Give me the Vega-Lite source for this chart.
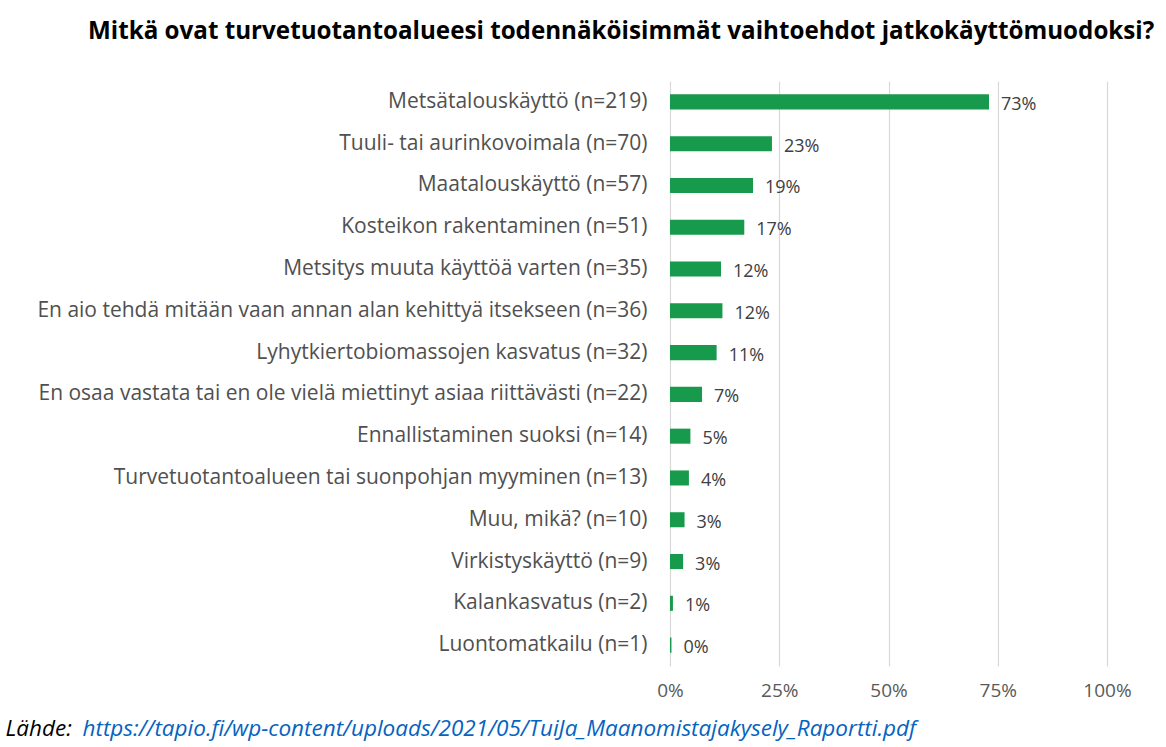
{
  "$schema": "https://vega.github.io/schema/vega-lite/v6.json",
  "width": 437,
  "height": 585,
  "autosize": {"type": "none"},
  "padding": {"left": 670, "top": 81, "right": 59, "bottom": 81},
  "background": "white",
  "title": {
    "text": "Mitkä ovat turvetuotantoalueesi todennäköisimmät vaihtoehdot jatkokäyttömuodoksi?",
    "anchor": "start",
    "frame": "group",
    "dx": -582,
    "offset": 18,
    "baseline": "alphabetic",
    "font": "Open Sans",
    "fontSize": 24.2,
    "fontWeight": "bold",
    "color": "#000000"
  },
  "data": {
    "values": [
      {"option": "Metsätalouskäyttö (n=219)", "share": 0.73},
      {"option": "Tuuli- tai aurinkovoimala (n=70)", "share": 0.2333},
      {"option": "Maatalouskäyttö (n=57)", "share": 0.19},
      {"option": "Kosteikon rakentaminen (n=51)", "share": 0.17},
      {"option": "Metsitys muuta käyttöä varten (n=35)", "share": 0.1167},
      {"option": "En aio tehdä mitään vaan annan alan kehittyä itsekseen (n=36)", "share": 0.12},
      {"option": "Lyhytkiertobiomassojen kasvatus (n=32)", "share": 0.1067},
      {"option": "En osaa vastata tai en ole vielä miettinyt asiaa riittävästi (n=22)", "share": 0.0733},
      {"option": "Ennallistaminen suoksi (n=14)", "share": 0.0467},
      {"option": "Turvetuotantoalueen tai suonpohjan myyminen (n=13)", "share": 0.0433},
      {"option": "Muu, mikä? (n=10)", "share": 0.0333},
      {"option": "Virkistyskäyttö (n=9)", "share": 0.03},
      {"option": "Kalankasvatus (n=2)", "share": 0.0067},
      {"option": "Luontomatkailu (n=1)", "share": 0.0033}
    ]
  },
  "encoding": {
    "y": {
      "field": "option",
      "type": "nominal",
      "sort": null,
      "scale": {"paddingInner": 0.64, "paddingOuter": 0.32},
      "axis": {
        "ticks": false,
        "domain": false,
        "labelFont": "Open Sans",
        "labelFontSize": 21,
        "labelColor": "#505050",
        "labelPadding": 23,
        "labelLimit": 1000,
        "title": "Lähde:",
        "titleAngle": 0,
        "titleX": -665,
        "titleY": 654,
        "titleAlign": "left",
        "titleBaseline": "alphabetic",
        "titleFont": "Open Sans",
        "titleFontStyle": "italic",
        "titleFontWeight": "normal",
        "titleFontSize": 22.5,
        "titleColor": "#000000"
      }
    }
  },
  "layer": [
    {
      "mark": {"type": "bar", "color": "#179A4B"},
      "encoding": {
        "x": {
          "field": "share",
          "type": "quantitative",
          "scale": {"domain": [0, 1]},
          "axis": {
            "values": [0, 0.25, 0.5, 0.75, 1],
            "format": ".0%",
            "grid": true,
            "gridColor": "#d9d9d9",
            "gridWidth": 1.2,
            "domain": false,
            "ticks": false,
            "labelFlush": false,
            "labelFont": "Open Sans",
            "labelFontSize": 19,
            "labelColor": "#595959",
            "labelPadding": 15,
            "title": "https://tapio.fi/wp-content/uploads/2021/05/TuiJa_Maanomistajakysely_Raportti.pdf",
            "titleX": -588,
            "titleY": 69,
            "titleAlign": "left",
            "titleBaseline": "alphabetic",
            "titleFont": "Open Sans",
            "titleFontStyle": "italic",
            "titleFontWeight": "normal",
            "titleFontSize": 22.5,
            "titleColor": "#0563C1"
          }
        }
      }
    },
    {
      "mark": {"type": "text", "align": "left", "baseline": "middle", "dx": 12, "dy": 3, "font": "Open Sans", "fontSize": 18, "color": "#404040"},
      "encoding": {
        "x": {"field": "share", "type": "quantitative"},
        "text": {"field": "share", "type": "quantitative", "format": ".0%"}
      }
    }
  ],
  "config": {"view": {"stroke": null}}
}
